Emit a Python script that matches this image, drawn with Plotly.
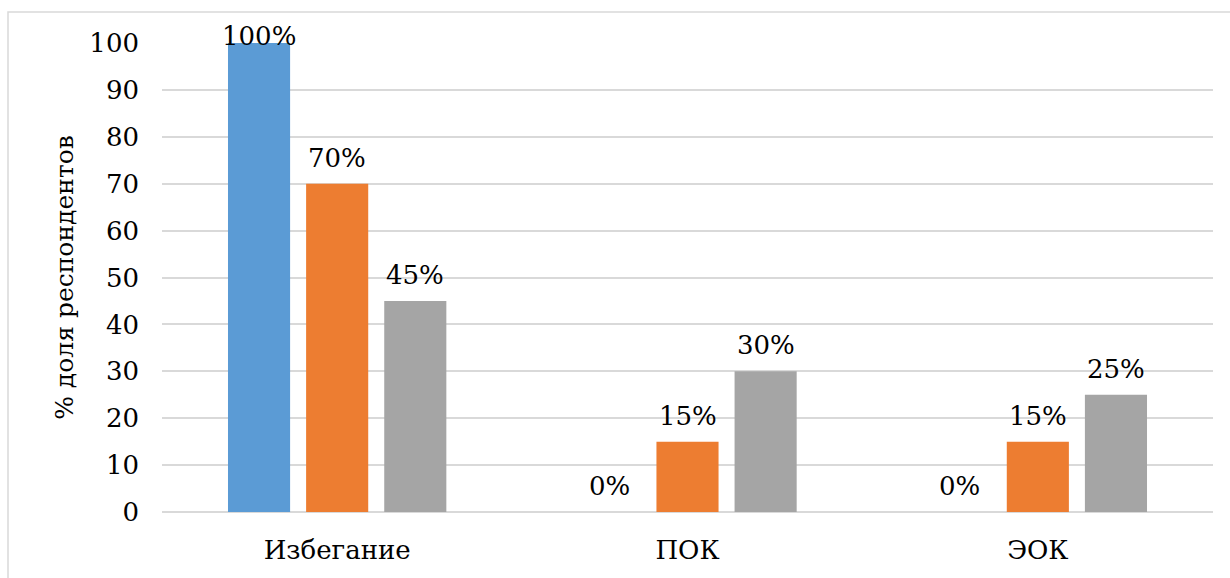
import plotly.graph_objects as go

categories = ["Избегание", "ПОК", "ЭОК"]
series_a = [100, 0, 0]
series_b = [70, 15, 15]
series_c = [45, 30, 25]
y_ticks = [0, 10, 20, 30, 40, 50, 60, 70, 80, 90, 100]

colors = ["#5B9BD5", "#ED7D31", "#A5A5A5"]
FONT = "DejaVu Serif"
FS = 26

W, H = 1230, 578
L, R, T, B = 162, 17, 43, 66
plot_w = W - L - R
plot_h = H - T - B
y_max = 100

bargap = 0.331
bargroupgap = 0.205

fig = go.Figure()
all_series = [series_a, series_b, series_c]
for vals, col in zip(all_series, colors):
    fig.add_trace(go.Bar(x=categories, y=vals, marker=dict(color=col, line=dict(width=0)),
                         showlegend=False, hoverinfo="skip"))

# data labels (Excel-like: above bar, clamped inside chart area)
cat_px = plot_w / len(categories)
slot_px = cat_px * (1 - bargap) / len(all_series)
px_per_unit = plot_h / y_max
label_off = 26 / px_per_unit
label_cap = 101.5
for si, vals in enumerate(all_series):
    shift = (si - (len(all_series) - 1) / 2) * slot_px
    for c, v in zip(categories, vals):
        fig.add_annotation(x=c, y=min(v + label_off, label_cap) / y_max, xref="x", yref="paper",
                           text=f"{v}%", showarrow=False, xshift=shift,
                           yanchor="middle", xanchor="center",
                           font=dict(family=FONT, size=FS, color="#000000"))

# chart border
fig.add_shape(type="rect", xref="paper", yref="paper",
              x0=(8 - L) / plot_w, x1=(W + 20 - L) / plot_w,
              y0=-(H + 20 - T - plot_h) / plot_h, y1=(H - B - 12) / plot_h,
              line=dict(color="#D9D9D9", width=1.5), fillcolor="rgba(0,0,0,0)", layer="below")

fig.update_layout(
    width=W, height=H,
    margin=dict(l=L, r=R, t=T, b=B),
    paper_bgcolor="white", plot_bgcolor="white",
    barmode="group", bargap=bargap, bargroupgap=bargroupgap,
    font=dict(family=FONT, size=FS, color="#000000"),
    xaxis=dict(showgrid=False, showline=False, ticks="", ticklabelstandoff=20,
               tickfont=dict(family=FONT, size=FS, color="#000000")),
    yaxis=dict(range=[0, y_max], tickvals=y_ticks, showgrid=True, gridcolor="#D9D9D9",
               gridwidth=2, zeroline=True, zerolinecolor="#D9D9D9", zerolinewidth=2,
               showline=False, ticks="", ticklabelstandoff=22,
               tickfont=dict(family=FONT, size=FS, color="#000000"),
               title=dict(text="% доля респондентов", standoff=8,
                          font=dict(family=FONT, size=25, color="#000000"))),
)

fig.write_html("out.html")
